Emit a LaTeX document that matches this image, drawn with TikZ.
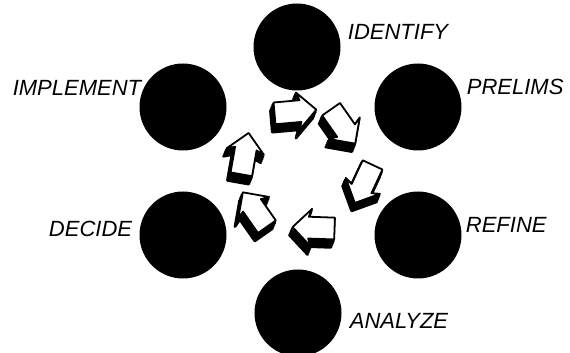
\documentclass[tikz,border=0pt]{standalone}
\usepackage{fontspec}
\newfontfamily\handfont{Liberation Sans}
\usepackage{tikz}
\usetikzlibrary{positioning, shapes.arrows}
\tikzset{
    stage_dot/.style={circle, fill=black, minimum size=87pt, inner sep=0pt},
    stage_tag/.style={inner sep=0pt, font={\handfont\itshape\fontsize{22}{22}\selectfont}},
    shade_step/.style={preaction={fill=black, draw=black, line width=2.6pt, line join=round, transform canvas={shift={(#1)}}}},
    cycle_arrow/.style={single arrow, draw=black, fill=white, line width=1.8pt, line join=round,
        inner xsep=0pt, inner ysep=10pt, minimum height=42pt,
        single arrow head extend=8pt, single arrow head indent=3pt,
        shade_step={-0.8pt,-2pt}, shade_step={-1.6pt,-4pt}, shade_step={-2.4pt,-6pt}, shade_step={-3.2pt,-8pt}}
}
\begin{document}
\begin{tikzpicture}[x=1pt, y=1pt]
    \useasboundingbox (0,0) rectangle (570,353);

    % the six stages
    \node[stage_dot] (identify) at (297,306) {};
    \node[stage_dot] (prelims) at (418,246) {};
    \node[stage_dot] (refine) at (418,118) {};
    \node[stage_dot] (analyze) at (298,40) {};
    \node[stage_dot] (decide) at (183,118) {};
    \node[stage_dot] (implement) at (183,246) {};

    \node[stage_tag, right=7pt of identify, yshift=15pt] (identify_tag) {IDENTIFY};
    \node[stage_tag, right=5pt of prelims, yshift=20pt] (prelims_tag) {PRELIMS};
    \node[stage_tag, right=4pt of refine, yshift=10pt] (refine_tag) {REFINE};
    \node[stage_tag, right=8pt of analyze, yshift=-8pt] (analyze_tag) {ANALYZE};
    \node[stage_tag, left=7pt of decide, yshift=6pt] (decide_tag) {DECIDE};
    \node[stage_tag, left=-2pt of implement, yshift=19pt] (implement_tag) {IMPLEMENT};

    % arrows going round clockwise
    \node[cycle_arrow, rotate=5] (turn1) at (290,241) {};
    \node[cycle_arrow, rotate=-55] (turn2) at (340,231) {};
    \node[cycle_arrow, rotate=-115] (turn3) at (366,174) {};
    \node[cycle_arrow, rotate=178] (turn4) at (319,125) {};
    \node[cycle_arrow, rotate=125] (turn5) at (258,139) {};
    \node[cycle_arrow, rotate=80] (turn6) at (244,194) {};
\end{tikzpicture}
\end{document}
